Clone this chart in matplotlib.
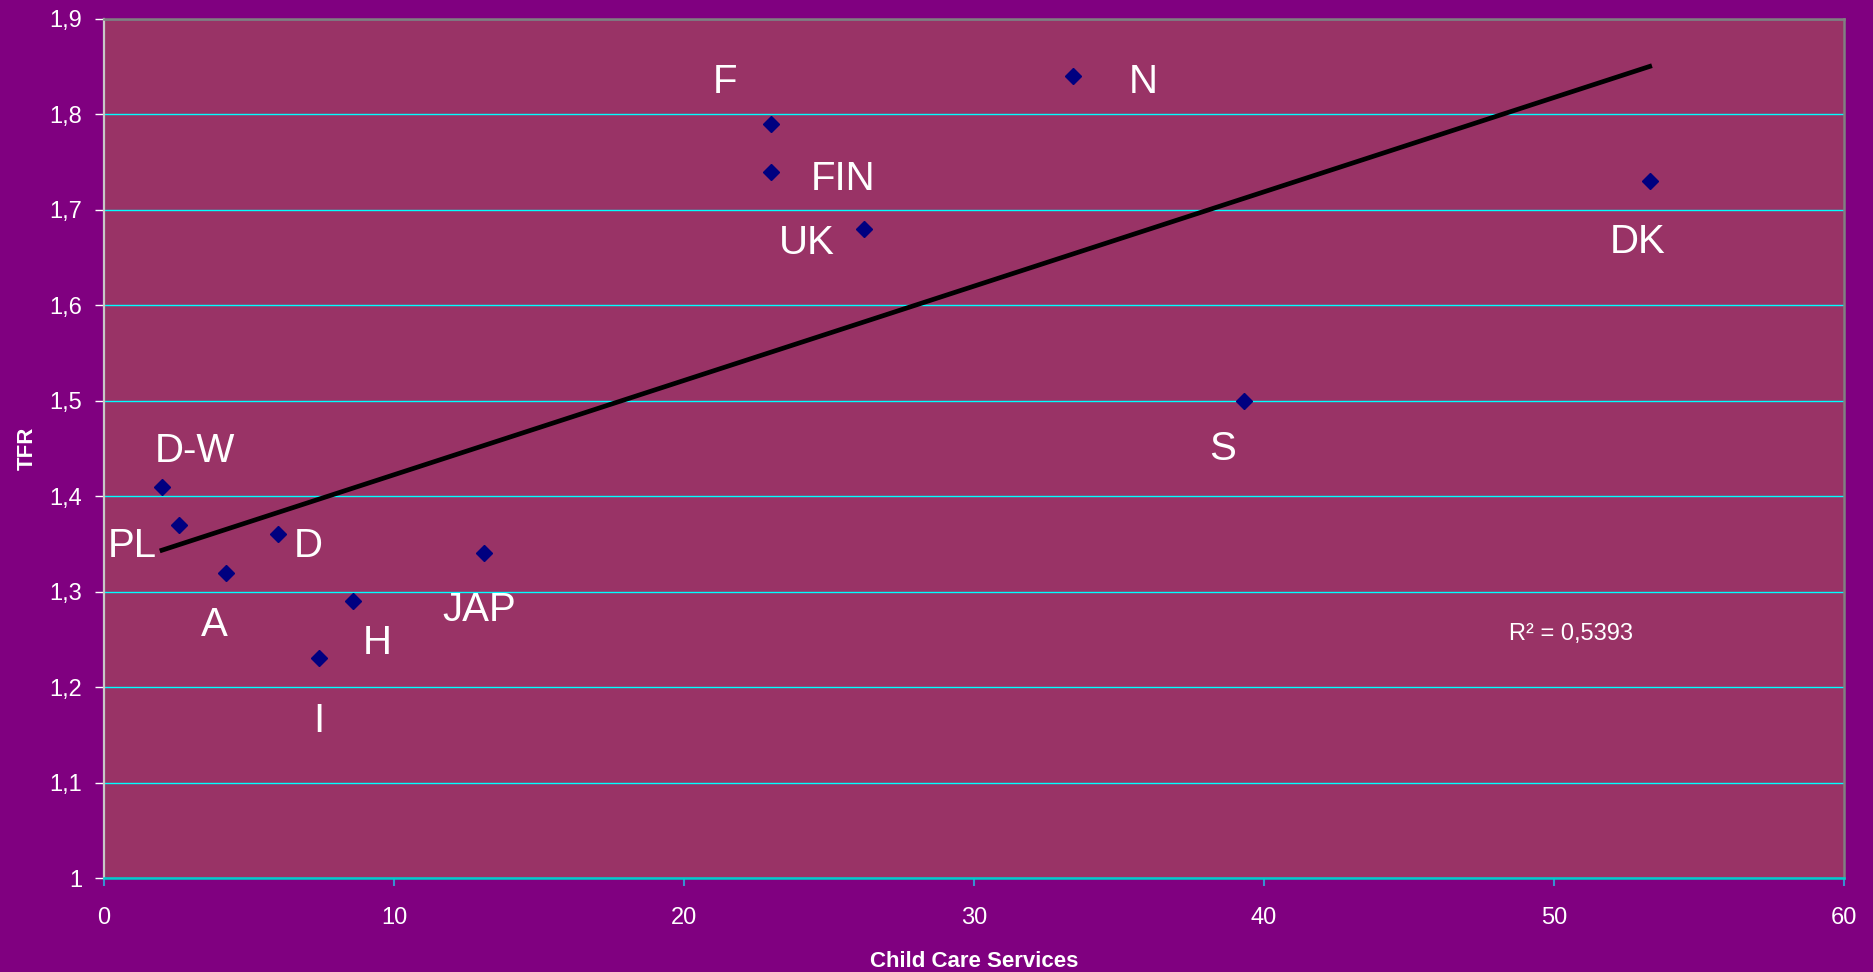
import matplotlib
matplotlib.use("Agg")
import matplotlib.pyplot as plt
import numpy as np

plt.rcParams['font.family'] = ['Liberation Sans', 'DejaVu Sans']

# data
countries = ['D-W', 'PL', 'A', 'D', 'I', 'H', 'JAP', 'F', 'FIN', 'UK', 'N', 'S', 'DK']
child_care = [2.0, 2.6, 4.2, 6.0, 7.4, 8.6, 13.1, 23.0, 23.0, 26.2, 33.4, 39.3, 53.3]
tfr = [1.41, 1.37, 1.32, 1.36, 1.23, 1.29, 1.34, 1.79, 1.74, 1.68, 1.84, 1.50, 1.73]
r2_text = 'R² = 0,5393'

x_ticks = [0, 10, 20, 30, 40, 50, 60]
y_ticks = [1.0, 1.1, 1.2, 1.3, 1.4, 1.5, 1.6, 1.7, 1.8, 1.9]
y_ticklabels = ['1', '1,1', '1,2', '1,3', '1,4', '1,5', '1,6', '1,7', '1,8', '1,9']

# label offsets in points (layout only)
label_offsets = [(24, 26), (-34, -15), (-8, -38), (22, -8), (0, -45), (17, -30),
                 (-3, -41), (-33, 30), (52, -5), (-41, -10), (51, -4), (-15, -35), (-9, -44)]

fig = plt.figure(figsize=(18.74, 9.72), dpi=100, facecolor='#800080')
ax = fig.add_axes([104/1874, 94/972, 1740/1874, 859/972])
ax.set_facecolor('#993366')

ax.set_xlim(0, 60)
ax.set_ylim(1.0, 1.9)
ax.set_xticks(x_ticks)
ax.set_yticks(y_ticks)
ax.set_yticklabels(y_ticklabels)

ax.grid(axis='y', color='#00FFFF', linewidth=1.0)
ax.set_axisbelow(True)

ax.spines['left'].set_color('#C8C8C8')
ax.spines['left'].set_linewidth(1.6)
ax.spines['top'].set_color('#808080')
ax.spines['top'].set_linewidth(1.8)
ax.spines['right'].set_color('#808080')
ax.spines['right'].set_linewidth(1.8)
ax.spines['bottom'].set_color('#00CCCC')
ax.spines['bottom'].set_linewidth(1.8)

ax.tick_params(axis='y', colors='white', length=6.5, width=1, pad=9, labelsize=17)
ax.tick_params(axis='x', color='#3A8FD0', labelcolor='white', length=6, width=1.5,
               pad=15, labelsize=17)

# trend line
k, b = np.polyfit(child_care, tfr, 1)
xs = np.array([min(child_care), max(child_care)])
ax.plot(xs, k*xs + b, color='black', linewidth=3.4, zorder=3)

ax.plot(child_care, tfr, linestyle='none', marker='D', markersize=8.2,
        color='#000080', markeredgecolor='#000080', zorder=4)

for name, x, y, off in zip(countries, child_care, tfr, label_offsets):
    ax.annotate(name, (x, y), xytext=off, textcoords='offset points',
                ha='center', va='center', color='white', fontsize=29)

ax.text(50.6, 1.256, r2_text, ha='center', va='center', color='white', fontsize=17)

ax.set_xlabel('Child Care Services', color='white', fontsize=16, fontweight='bold')
ax.set_ylabel('TFR', color='white', fontsize=16, fontweight='bold')
ax.yaxis.set_label_coords(-0.038, 0.5)
ax.xaxis.set_label_coords(0.5, -0.085)

fig.savefig('out.png', dpi=100, facecolor=fig.get_facecolor())
